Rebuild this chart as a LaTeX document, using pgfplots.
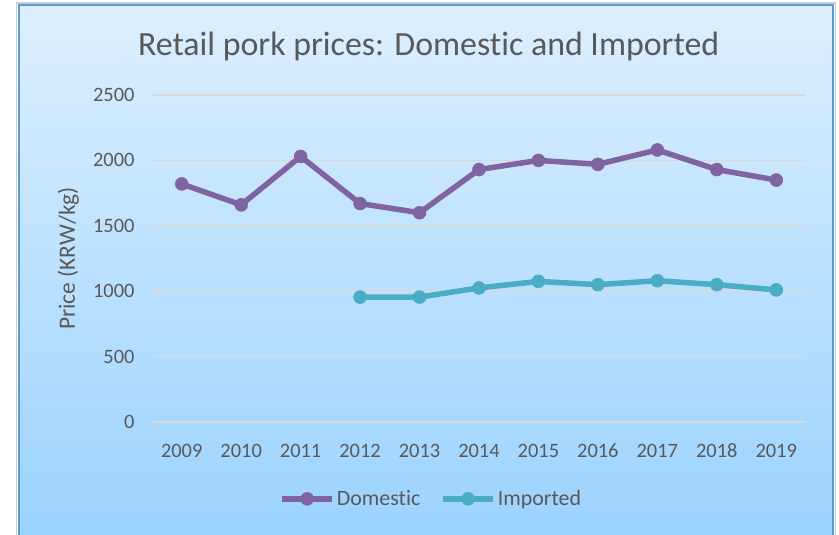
\documentclass[border=0pt]{standalone}
\usepackage{fontspec}
\setmainfont{Carlito}[Ligatures=NoCommon]
\usepackage{pgfplots}
\pgfplotsset{compat=1.18}
\definecolor{dom}{HTML}{8064A2}
\definecolor{imp}{HTML}{4BACC6}
\definecolor{txt}{HTML}{595959}
\definecolor{grd}{HTML}{D9D9D9}
\definecolor{bgtop}{HTML}{DDEFFE}
\definecolor{bgbot}{HTML}{9BD3FF}
\definecolor{frame}{HTML}{5B9BD5}
\begin{document}
\begin{tikzpicture}
\path[use as bounding box] (0,0) rectangle (839bp,535bp);
% chart area background
\shade[top color=bgtop, bottom color=bgbot] (19bp,0) rectangle (833bp,530bp);
\draw[black!20, line width=1.5bp] (16.5bp,0) -- (16.5bp,532bp) -- (835.5bp,532bp) -- (835.5bp,0);
\draw[frame, line width=2bp] (19bp,0) -- (19bp,530bp) -- (833bp,530bp) -- (833bp,0);
\begin{axis}[
    at={(152bp,113bp)}, anchor=south west,
    scale only axis,
    width=654bp, height=327bp,
    xmin=2008.5, xmax=2019.5,
    ymin=0, ymax=2500,
    xtick={2009,...,2019},
    xticklabels={2009,2010,2011,2012,2013,2014,2015,2016,2017,2018,2019},
    ytick={0,500,...,2500},
    y tick label style={/pgf/number format/1000 sep=},
    /pgf/number format/assume math mode=true,
    tick label style={font=\fontsize{20.5}{22}\selectfont, text=txt},
    xticklabel style={anchor=north, text height=13bp, text depth=0bp, yshift=-19bp},
    yticklabel style={xshift=-14bp},
    major tick length=0pt,
    axis line style={draw=none},
    ymajorgrids,
    grid style={grd, line width=1.5bp},
    ylabel={Price (KRW/kg)},
    ylabel style={at={(axis description cs:-0.128,0.5)}, anchor=center, rotate=0,
                  font=\fontsize{23.5}{26}\selectfont, text=txt},
    title={Retail pork prices: Domestic and Imported},
    title style={at={(axis description cs:0.423,1.13)}, anchor=center,
                 font=\fontsize{34}{38}\selectfont, text=txt},
    legend columns=2,
    legend style={at={(axis description cs:0.427,-0.235)}, anchor=center,
                  draw=none, fill=none, font=\fontsize{22}{25}\selectfont, text=txt,
                  /tikz/every even column/.append style={column sep=18bp}},
    legend image code/.code={
        \draw[mark repeat=2, mark phase=2, #1] plot coordinates {(0bp,0bp) (25bp,0bp) (50bp,0bp)};
    },
    every axis plot/.append style={line width=5.5bp, mark=*, mark size=6.5bp},
]
\addplot[dom, mark options={fill=dom, draw=dom, line width=0.5bp}] coordinates {
    (2009,1820) (2010,1660) (2011,2030) (2012,1670) (2013,1600) (2014,1930)
    (2015,2000) (2016,1970) (2017,2080) (2018,1930) (2019,1850)
};
\addlegendentry{Domestic}
\addplot[imp, mark options={fill=imp, draw=imp, line width=0.5bp}] coordinates {
    (2012,955) (2013,955) (2014,1025) (2015,1075) (2016,1050)
    (2017,1080) (2018,1050) (2019,1010)
};
\addlegendentry{Imported}
\end{axis}
\end{tikzpicture}
\end{document}
